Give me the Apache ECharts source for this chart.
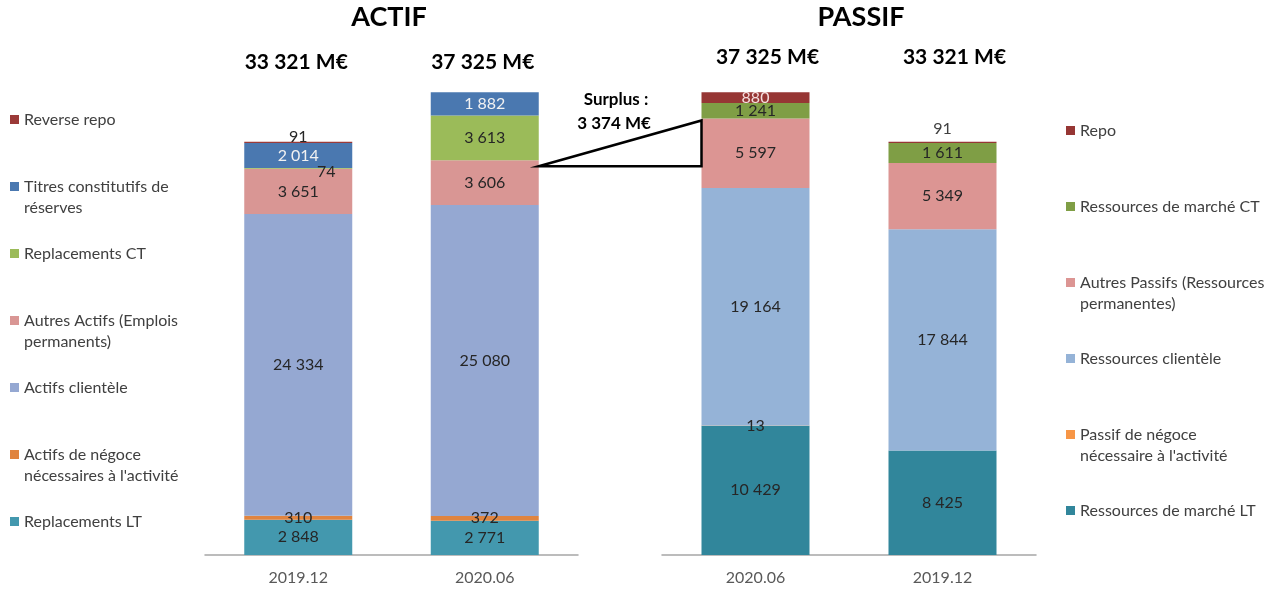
<!DOCTYPE html>
<html><head><meta charset="utf-8">
<script src="https://cdn.jsdelivr.net/npm/echarts@6/dist/echarts.min.js"></script>
<style>html,body{margin:0;padding:0;background:#fff}#c{width:1279px;height:590px}</style>
</head><body><div id="c"></div>
<script>
// ---- DATA ----
const actifCategories = ['2019.12', '2020.06'];
const passifCategories = ['2020.06', '2019.12'];
const actifTotals = [33321, 37325];
const passifTotals = [37325, 33321];
// Actif series (bottom to top)
const actifNames = ['Replacements LT', 'Actifs de négoce\nnécessaires à l\'activité', 'Actifs clientèle', 'Autres Actifs (Emplois\npermanents)', 'Replacements CT', 'Titres constitutifs de\nréserves', 'Reverse repo'];
const replacementsLT = [2848, 2771];
const actifsNegoce = [310, 372];
const actifsClientele = [24334, 25080];
const autresActifs = [3651, 3606];
const replacementsCT = [74, 3613];
const titresReserves = [2014, 1882];
const reverseRepo = [91, 0];
// Passif series (bottom to top)
const passifNames = ['Ressources de marché LT', 'Passif de négoce\nnécessaire à l\'activité', 'Ressources clientèle', 'Autres Passifs (Ressources\npermanentes)', 'Ressources de marché CT', 'Repo'];
const ressourcesLT = [10429, 8425];
const passifNegoce = [13, 0];
const ressourcesClientele = [19164, 17844];
const autresPassifs = [5597, 5349];
const ressourcesCT = [1241, 1611];
const repo = [880, 91];

// ---- STYLE ----
const FONT = 'Lato';
const actifColors = ['#4398ae', '#e0843f', '#95a8d2', '#d99694', '#9bbb59', '#4a78b0', '#9b3a38'];
const passifColors = ['#31869b', '#f79646', '#95b3d7', '#dc9593', '#7f9e45', '#963634'];
const fmt = v => String(v).replace(/\B(?=(\d{3})+(?!\d))/g, '\u00a0');
const baseLabel = {
  show: true, position: 'inside', fontFamily: FONT, fontSize: 16, color: '#262626',
  formatter: p => (p.value ? fmt(p.value) : '')
};
const BW = 108;

const actifData = [replacementsLT, actifsNegoce, actifsClientele, autresActifs, replacementsCT, titresReserves, reverseRepo];
const passifData = [ressourcesLT, passifNegoce, ressourcesClientele, autresPassifs, ressourcesCT, repo];

const series = [];
actifData.forEach((arr, si) => {
  let label = Object.assign({}, baseLabel);
  let data = arr.slice();
  if (si === 5) label.color = '#f2f2f2';
  if (si === 6) label = Object.assign(label, { position: 'top', distance: -3 });
  if (si === 4) data = arr.map((v, i) => i === 0 ? { value: v, label: { offset: [28, 3] } } : v);
  series.push({ name: actifNames[si], type: 'bar', stack: 'actif', xAxisIndex: 0, yAxisIndex: 0,
    barWidth: BW, data, itemStyle: { color: actifColors[si] }, label, emphasis: { disabled: true } });
});
passifData.forEach((arr, si) => {
  let label = Object.assign({}, baseLabel);
  let data = arr.slice();
  if (si === 5) {
    label.color = '#f4dede';
    data = arr.map((v, i) => i === 1 ? { value: v, label: { position: 'top', distance: 5, color: '#404040' } } : v);
  }
  series.push({ name: passifNames[si], type: 'bar', stack: 'passif', xAxisIndex: 1, yAxisIndex: 1,
    barWidth: BW, data, itemStyle: { color: passifColors[si] }, label, emphasis: { disabled: true } });
});

// every legend item is 3 text lines tall, the icon sitting on the first line of the name
function legendData(names) {
  return names.slice().reverse().map(n => ({
    name: n,
    textStyle: { padding: n.indexOf('\n') >= 0 ? 0 : [21, 0, 21, 0] }
  }));
}
const legendFormatter = n => (n.indexOf('\n') >= 0 ? '\u00a0\n' + n : n);
const legendText = { fontFamily: FONT, fontSize: 16, color: '#404040', lineHeight: 21 };

const xAxisCommon = {
  type: 'category', axisTick: { show: false },
  axisLine: { lineStyle: { color: '#a6a6a6', width: 1.5 } },
  axisLabel: { fontFamily: FONT, fontSize: 16, color: '#595959', margin: 15 }
};
const yAxisCommon = { type: 'value', min: 0, max: 40000, show: false, splitLine: { show: false } };

const chart = echarts.init(document.getElementById('c'));
chart.setOption({
  animation: false,
  title: [
    { text: 'ACTIF', left: 389, top: 4, padding: 0, textAlign: 'center', textStyle: { fontFamily: FONT, fontSize: 27, fontWeight: 'bold', color: '#000' } },
    { text: 'PASSIF', left: 861, top: 4, padding: 0, textAlign: 'center', textStyle: { fontFamily: FONT, fontSize: 27, fontWeight: 'bold', color: '#000' } }
  ],
  legend: [
    { orient: 'vertical', left: 10, top: 88, padding: 0, itemGap: 4, itemWidth: 9, itemHeight: 9, icon: 'rect',
      selectedMode: false, textStyle: legendText, formatter: legendFormatter, data: legendData(actifNames) },
    { orient: 'vertical', left: 1066, top: 99, padding: 0, itemGap: 13, itemWidth: 9, itemHeight: 9, icon: 'rect',
      selectedMode: false, textStyle: legendText, formatter: legendFormatter, data: legendData(passifNames) }
  ],
  grid: [
    { left: 205, width: 373, top: 59, height: 496 },
    { left: 662, width: 374, top: 59, height: 496 }
  ],
  xAxis: [
    Object.assign({ gridIndex: 0, data: actifCategories }, xAxisCommon),
    Object.assign({ gridIndex: 1, data: passifCategories }, xAxisCommon)
  ],
  yAxis: [
    Object.assign({ gridIndex: 0 }, yAxisCommon),
    Object.assign({ gridIndex: 1 }, yAxisCommon)
  ],
  series
});

// ---- annotations computed through the chart's scales ----
const sumUpTo = (arrs, i, n) => arrs.slice(0, n).reduce((s, a) => s + a[i], 0);
const actifPerm = sumUpTo(actifData, 1, 4);   // 2020.06 : LT + négoce + clientèle + autres actifs
const passifPerm = sumUpTo(passifData, 0, 4); // 2020.06 : LT + négoce + clientèle + autres passifs
const surplus = passifPerm - actifPerm;
const pA = chart.convertToPixel({ gridIndex: 0 }, ['2020.06', actifPerm]);
const pP = chart.convertToPixel({ gridIndex: 1 }, ['2020.06', passifPerm]);
const x1 = pA[0] + BW / 2, y1 = pA[1] + 6;
const x2 = pP[0] - BW / 2, y2 = pP[1] + 2;

const graphics = [
  { type: 'polygon', shape: { points: [[x1, y1], [x2, y2], [x2, y1]] }, style: { fill: 'none', stroke: '#000', lineWidth: 2.5 }, z: 100 },
  { type: 'text', x: 616, y: 100, style: { text: 'Surplus :', fontFamily: FONT, fontSize: 17, fontWeight: 'bold', fill: '#000', align: 'center', verticalAlign: 'middle' }, z: 100 },
  { type: 'text', x: 614, y: 124, style: { text: fmt(surplus) + ' M€', fontFamily: FONT, fontSize: 17, fontWeight: 'bold', fill: '#000', align: 'center', verticalAlign: 'middle' }, z: 100 }
];
actifCategories.forEach((c, i) => {
  const p = chart.convertToPixel({ gridIndex: 0 }, [c, 0]);
  graphics.push({ type: 'text', x: p[0] - 2, y: 62, style: { text: fmt(actifTotals[i]) + ' M€', fontFamily: FONT, fontSize: 21, fontWeight: 'bold', fill: '#000', align: 'center', verticalAlign: 'middle' } });
});
passifCategories.forEach((c, i) => {
  const p = chart.convertToPixel({ gridIndex: 1 }, [c, 0]);
  graphics.push({ type: 'text', x: p[0] + 12, y: 57, style: { text: fmt(passifTotals[i]) + ' M€', fontFamily: FONT, fontSize: 21, fontWeight: 'bold', fill: '#000', align: 'center', verticalAlign: 'middle' } });
});
chart.setOption({ graphic: graphics });
</script>
</body></html>
